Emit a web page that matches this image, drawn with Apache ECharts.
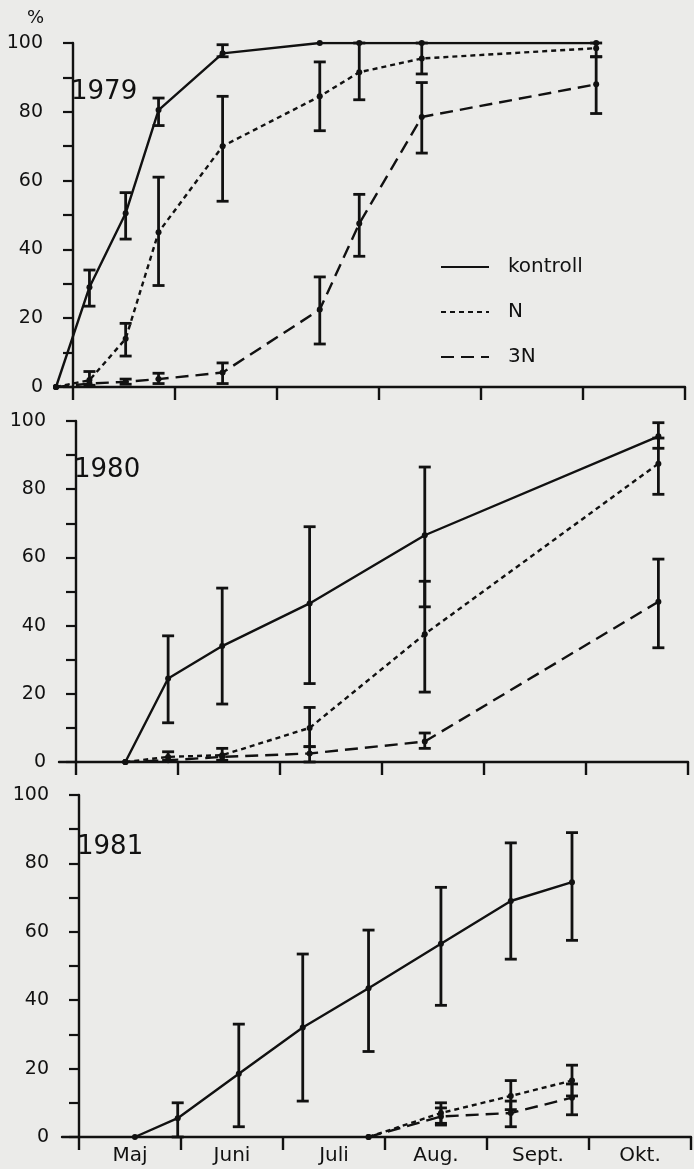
<!DOCTYPE html>
<html>
<head>
<meta charset="utf-8">
<script src="https://cdn.jsdelivr.net/npm/echarts@6/dist/echarts.min.js"></script>
<style>
  html, body { margin: 0; padding: 0; background: #ebebe9; }
  #chart { width: 694px; height: 1169px; }
</style>
</head>
<body>
<div id="chart"></div>
<script>
// Month labels along the bottom axis
const months = ['Maj', 'Juni', 'Juli', 'Aug.', 'Sept.', 'Okt.'];
const seriesNames = ['kontroll', 'N', '3N'];
const yearLabels = ['1979', '1980', '1981'];

// 1979 (sampling dates as month-day)
const dates1979 = ['4-26', '5-6', '5-17', '5-27', '6-15', '7-14', '7-26', '8-14', '10-5'];
const kontroll1979   = [0, 29, 50.5, 80.5, 97, 100, 100, 100, 100];
const kontroll1979Lo = [null, 23.5, 43, 76, 96, null, null, null, null];
const kontroll1979Hi = [null, 34, 56.5, 84, 99.5, null, null, null, null];
const n1979   = [0, 2, 14, 45, 70, 84.5, 91.5, 95.5, 98.5];
const n1979Lo = [null, 0.5, 9, 29.5, 54, 74.5, 83.5, 91, 96];
const n1979Hi = [null, 4.5, 18.5, 61, 84.5, 94.5, 100, 100, 100];
const n3_1979   = [0, 1, 1.5, 2.3, 4.2, 22.5, 47.5, 78.5, 88];
const n3_1979Lo = [null, null, 0.8, 1, 1, 12.5, 38, 68, 79.5];
const n3_1979Hi = [null, null, 2.3, 4, 7, 32, 56, 88.5, 96];

// 1980
const dates1980 = ['5-16', '5-29', '6-14', '7-10', '8-14', '10-23'];
const kontroll1980   = [0, 24.5, 34, 46.5, 66.5, 95.5];
const kontroll1980Lo = [null, 11.5, 17, 23, 45.5, 92];
const kontroll1980Hi = [null, 37, 51, 69, 86.5, 99.5];
const n1980   = [0, 1.5, 2, 10, 37.5, 87.5];
const n1980Lo = [null, 0.5, 0.5, 4.5, 20.5, 78.5];
const n1980Hi = [null, 3, 4, 16, 53, 95];
const n3_1980   = [0, 0.5, 1.5, 2.5, 6, 47];
const n3_1980Lo = [null, null, null, 0, 4, 33.5];
const n3_1980Hi = [null, null, null, 4.5, 8.5, 59.5];

// 1981
const dates1981 = ['5-18', '5-31', '6-18', '7-7', '7-27', '8-18', '9-8', '9-26'];
const kontroll1981   = [0, 5.5, 18.5, 32, 43.5, 56.5, 69, 74.5];
const kontroll1981Lo = [null, 0, 3, 10.5, 25, 38.5, 52, 57.5];
const kontroll1981Hi = [null, 10, 33, 53.5, 60.5, 73, 86, 89];
const datesTreat1981 = ['7-27', '8-18', '9-8', '9-26'];
const n1981   = [0, 7, 12, 16.5];
const n1981Lo = [null, 4, 8, 12];
const n1981Hi = [null, 10, 16.5, 21];
const n3_1981   = [0, 6, 7, 11.5];
const n3_1981Lo = [null, 3.5, 3, 6.5];
const n3_1981Hi = [null, 8.5, 10.5, 15.5];

// Date string -> position in months, 0 = 1 May, 6 = 1 November
const daysInMonth = { 4: 30, 5: 31, 6: 30, 7: 31, 8: 31, 9: 30, 10: 31 };
function monthPos(d) {
  const [m, day] = d.split('-').map(Number);
  return (m - 5) + (day - 1) / daysInMonth[m];
}

const panels = [
  { dates: [dates1979, dates1979, dates1979],
    vals: [kontroll1979, n1979, n3_1979],
    lo: [kontroll1979Lo, n1979Lo, n3_1979Lo],
    hi: [kontroll1979Hi, n1979Hi, n3_1979Hi] },
  { dates: [dates1980, dates1980, dates1980],
    vals: [kontroll1980, n1980, n3_1980],
    lo: [kontroll1980Lo, n1980Lo, n3_1980Lo],
    hi: [kontroll1980Hi, n1980Hi, n3_1980Hi] },
  { dates: [dates1981, datesTreat1981, datesTreat1981],
    vals: [kontroll1981, n1981, n3_1981],
    lo: [kontroll1981Lo, n1981Lo, n3_1981Lo],
    hi: [kontroll1981Hi, n1981Hi, n3_1981Hi] }
];

const INK = '#111111';
const FONT = 'DejaVu Sans';
const lineTypes = ['solid', [5, 4], [13, 7]];
const gridBoxes = [
  { left: 56, right: 9, top: 43, height: 344 },
  { left: 59, right: 6, top: 421, height: 341 },
  { left: 62, right: 3, top: 795, height: 342 }
];
const yearPos = [[71, 79], [74, 457], [77, 834]];

const xMin = monthPos('4-26');
const monthStarts = [0, 1, 2, 3, 4, 5, 6];
const monthMids = [0.5, 1.5, 2.5, 3.5, 4.5, 5.5];

function errorBarItem(params, api) {
  const x = api.value(0);
  const top = api.coord([x, api.value(2)]);
  const bot = api.coord([x, api.value(1)]);
  const w = 6;
  const st = { stroke: INK, lineWidth: 2.8 };
  return {
    type: 'group',
    children: [
      { type: 'line', shape: { x1: top[0], y1: top[1], x2: bot[0], y2: bot[1] }, style: st },
      { type: 'line', shape: { x1: top[0] - w, y1: top[1], x2: top[0] + w, y2: top[1] }, style: st },
      { type: 'line', shape: { x1: bot[0] - w, y1: bot[1], x2: bot[0] + w, y2: bot[1] }, style: st }
    ]
  };
}

const grid = [], xAxis = [], yAxis = [], series = [], title = [];

panels.forEach((p, i) => {
  grid.push(Object.assign({}, gridBoxes[i]));
  const isLast = i === panels.length - 1;
  xAxis.push({
    type: 'value', gridIndex: i, min: xMin, max: 6,
    splitLine: { show: false },
    axisLine: { show: true, onZero: false, lineStyle: { color: INK, width: 2.4 } },
    axisTick: { show: true, customValues: monthStarts, length: 13, inside: false,
                lineStyle: { color: INK, width: 2.4 } },
    axisLabel: { show: isLast, customValues: monthMids, margin: 9,
                 color: INK, fontFamily: FONT, fontSize: 20,
                 formatter: v => months[Math.floor(v)] }
  });
  yAxis.push({
    type: 'value', gridIndex: i, min: 0, max: 100, interval: 10,
    splitLine: { show: false },
    axisLine: { show: true, lineStyle: { color: INK, width: 2.4 } },
    axisTick: { show: true, length: 10, inside: false, lineStyle: { color: INK, width: 2.2 } },
    axisLabel: { margin: 13, color: INK, fontFamily: FONT, fontSize: 19,
                 formatter: v => (v % 20 === 0 ? String(v) : '') }
  });
  title.push({
    text: yearLabels[i], left: yearPos[i][0], top: yearPos[i][1], padding: 0,
    textStyle: { color: INK, fontFamily: FONT, fontSize: 26, fontWeight: 'normal' }
  });

  seriesNames.forEach((name, k) => {
    const xs = p.dates[k].map(monthPos);
    series.push({
      name: name, type: 'line', xAxisIndex: i, yAxisIndex: i,
      data: xs.map((x, j) => [x, p.vals[k][j]]),
      symbol: 'circle', symbolSize: 6,
      itemStyle: { color: INK },
      lineStyle: { color: INK, width: 2.4, type: lineTypes[k] },
      silent: true, animation: false, z: 3
    });
    const bars = [];
    xs.forEach((x, j) => {
      if (p.lo[k][j] != null && p.hi[k][j] != null) bars.push([x, p.lo[k][j], p.hi[k][j]]);
    });
    series.push({
      type: 'custom', xAxisIndex: i, yAxisIndex: i,
      renderItem: errorBarItem, data: bars,
      encode: { x: 0, y: [1, 2] },
      silent: true, animation: false, z: 2
    });
  });
});

title.push({
  text: '%', left: 27, top: 9, padding: 0,
  textStyle: { color: INK, fontFamily: FONT, fontSize: 18, fontWeight: 'normal' }
});

const chart = echarts.init(document.getElementById('chart'), null, { renderer: 'canvas' });
chart.setOption({
  backgroundColor: '#ebebe9',
  animation: false,
  title: title,
  legend: {
    data: seriesNames, orient: 'vertical', left: 435, top: 252,
    itemWidth: 48, itemHeight: 14, itemGap: 25,
    itemStyle: { opacity: 0 },
    selectedMode: false,
    textStyle: { color: INK, fontFamily: FONT, fontSize: 20, padding: [0, 0, 0, 14] }
  },
  grid: grid, xAxis: xAxis, yAxis: yAxis, series: series
});
</script>
</body>
</html>
